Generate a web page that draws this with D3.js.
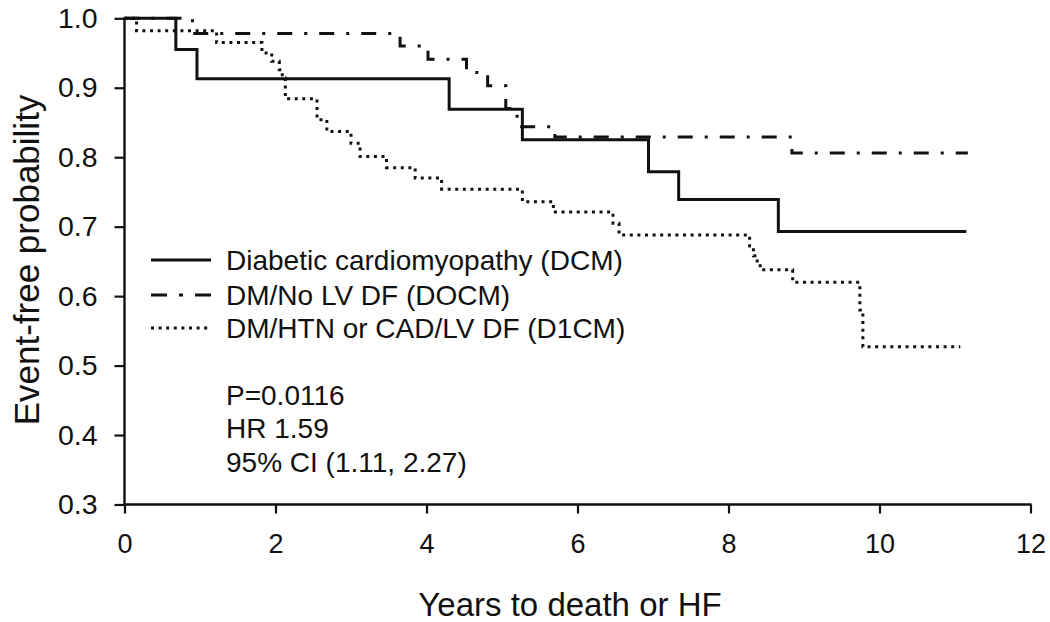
<!DOCTYPE html>
<html><head><meta charset="utf-8">
<script src="https://cdn.jsdelivr.net/npm/d3@7"></script>
<style>
html,body{margin:0;padding:0;background:#fff;}
svg text{font-family:"Liberation Sans",Arial,Helvetica,sans-serif;fill:#111;}
</style></head>
<body><svg id="chart" width="1050" height="622"></svg>
<script>
// ---- data ----
const seriesNames = ["Diabetic cardiomyopathy (DCM)", "DM/No LV DF (DOCM)", "DM/HTN or CAD/LV DF (D1CM)"];
const dcmTimes = [0, 0.68, 0.96, 4.30, 5.27, 6.94, 7.34, 8.66, 11.15];
const dcmSurv  = [1.0, 0.955, 0.913, 0.869, 0.825, 0.779, 0.739, 0.693, 0.693];
const docmTimes = [0, 0.9, 3.65, 4.02, 4.53, 4.81, 5.05, 5.2, 5.7, 8.84, 11.17];
const docmSurv  = [1.0, 0.978, 0.96, 0.941, 0.922, 0.903, 0.87, 0.844, 0.829, 0.806, 0.806];
const d1cmTimes = [0, 0.16, 1.22, 1.82, 1.95, 2.05, 2.09, 2.13, 2.55, 2.68, 3.0, 3.12, 3.47, 3.85, 4.2, 5.27, 5.68, 6.47, 6.55, 8.28, 8.33, 8.38, 8.42, 8.85, 9.74, 9.78, 11.07];
const d1cmSurv  = [1.0, 0.982, 0.965, 0.950, 0.938, 0.926, 0.914, 0.884, 0.854, 0.837, 0.820, 0.801, 0.785, 0.770, 0.754, 0.736, 0.721, 0.705, 0.688, 0.672, 0.658, 0.647, 0.638, 0.620, 0.580, 0.527, 0.527];
const xTicks = [0, 2, 4, 6, 8, 10, 12];
const yTicks = [0.3, 0.4, 0.5, 0.6, 0.7, 0.8, 0.9, 1.0];
const statsLines = ["P=0.0116", "HR 1.59", "95% CI (1.11, 2.27)"];
const xTitle = "Years to death or HF";
const yTitle = "Event-free probability";

// ---- layout ----
const svg = d3.select("#chart");
const x = d3.scaleLinear().domain([0, 12]).range([124.5, 1030.5]);
const y = d3.scaleLinear().domain([0.3, 1.0]).range([504.5, 18.3]);
const ink = "#111";
const styles = [
  {dash: null, width: 3},
  {dash: "15,12,3,12", width: 3},
  {dash: "3,4.6", width: 3}
];
const series = [
  {t: dcmTimes, s: dcmSurv},
  {t: docmTimes, s: docmSurv},
  {t: d1cmTimes, s: d1cmSurv}
];

// axes
const yAxis = d3.axisLeft(y).tickValues(yTicks).tickFormat(d3.format(".1f")).tickSize(10).tickPadding(17);
const xAxis = d3.axisBottom(x).tickValues(xTicks).tickFormat(d3.format("d")).tickSize(9).tickPadding(20);
const gy = svg.append("g").attr("transform", `translate(${x(0)},0)`).call(yAxis);
const gx = svg.append("g").attr("transform", `translate(0,${y(0.3)})`).call(xAxis);
[gx, gy].forEach(g => {
  g.select(".domain").remove();
  g.selectAll("line").attr("stroke", ink).attr("stroke-width", 2.2);
  g.selectAll("text").attr("fill", ink)
    .style("font-family", '"Liberation Sans",Arial,sans-serif');
});
gx.selectAll("text").attr("font-size", 27);
gy.selectAll("text").attr("font-size", 28.5);
svg.append("line").attr("x1", x(0)).attr("x2", x(0)).attr("y1", y(1.0) - 1).attr("y2", y(0.3) + 1)
  .attr("stroke", ink).attr("stroke-width", 2.4);
svg.append("line").attr("x1", x(0) - 1).attr("x2", x(12) + 1).attr("y1", y(0.3)).attr("y2", y(0.3))
  .attr("stroke", ink).attr("stroke-width", 2.4);

// curves
const line = d3.line().x(d => x(d[0])).y(d => y(d[1])).curve(d3.curveStepAfter);
series.forEach((sr, i) => {
  const pts = sr.t.map((t, k) => [t, sr.s[k]]);
  svg.append("path").datum(pts).attr("d", line)
    .attr("fill", "none").attr("stroke", ink)
    .attr("stroke-width", styles[i].width)
    .attr("stroke-dasharray", styles[i].dash)
    .attr("stroke-linejoin", "miter");
});

// legend
const legX0 = 151, legX1 = 211, legTextX = 226, legY = [260, 295, 328];
seriesNames.forEach((name, i) => {
  svg.append("line").attr("x1", legX0).attr("x2", legX1).attr("y1", legY[i]).attr("y2", legY[i])
    .attr("stroke", ink).attr("stroke-width", styles[i].width)
    .attr("stroke-dasharray", i === 1 ? "16,12,4,12" : styles[i].dash);
  svg.append("text").attr("x", legTextX).attr("y", legY[i]).attr("dy", "0.35em")
    .attr("font-size", 28).text(name);
});
statsLines.forEach((s, i) => {
  svg.append("text").attr("x", legTextX).attr("y", 395 + i * 33.5).attr("dy", "0.35em")
    .attr("font-size", 28).text(s);
});

// axis titles
svg.append("text").attr("x", 570).attr("y", 616).attr("text-anchor", "middle")
  .attr("font-size", 33).text(xTitle);
svg.append("text").attr("transform", `translate(39,260) rotate(-90)`).attr("text-anchor", "middle")
  .attr("font-size", 35).text(yTitle);
</script></body></html>
